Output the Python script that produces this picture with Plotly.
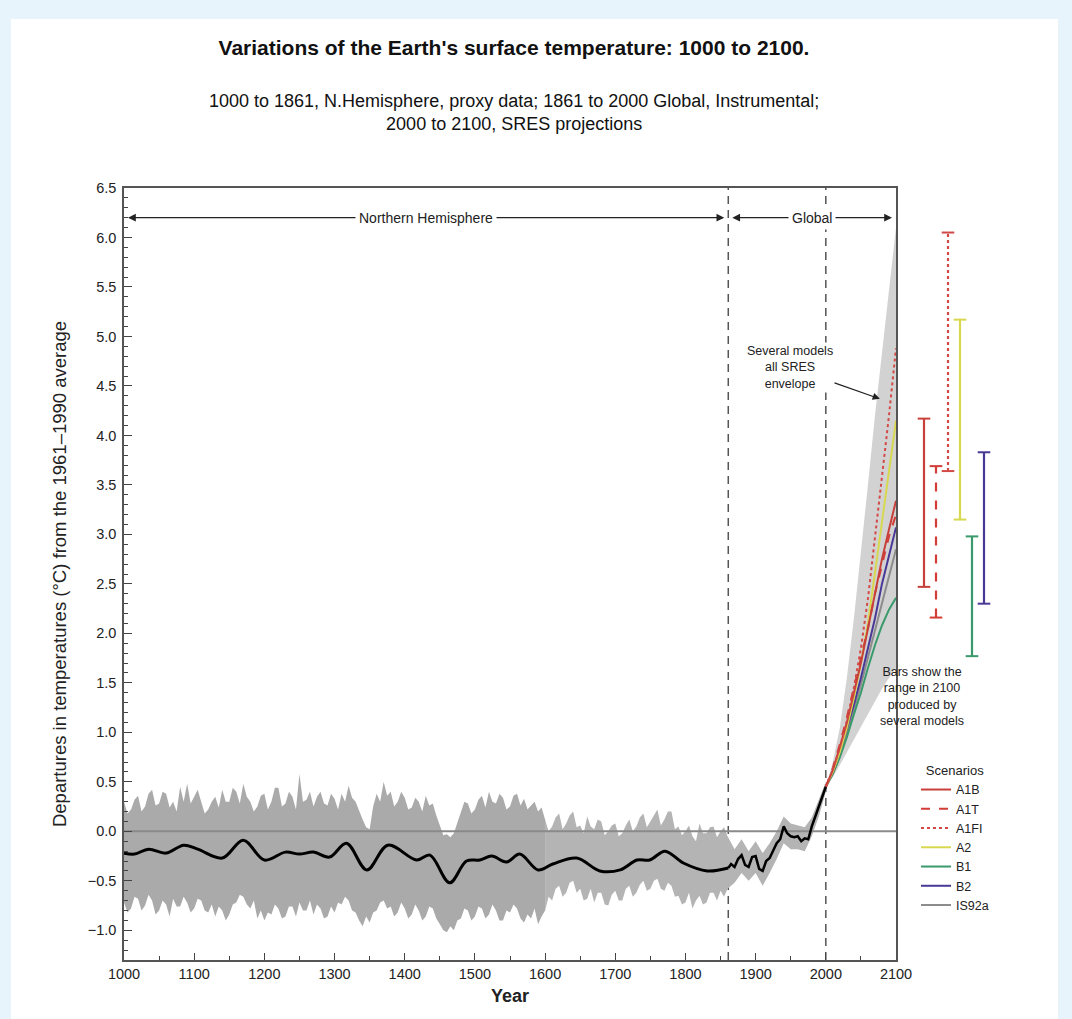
import plotly.graph_objects as go

# ---------------- data ----------------
periods = [1000, 1861, 2000, 2100]

band_years = list(range(1000, 1861, 5)) + list(range(1870, 2001, 10))
band_upper = [
    0.30, 0.18, 0.22, 0.32, 0.36, 0.20, 0.25, 0.38, 0.42, 0.26,
    0.28, 0.40, 0.38, 0.24, 0.30, 0.20, 0.45, 0.30, 0.48, 0.28,
    0.35, 0.42, 0.30, 0.18, 0.22, 0.30, 0.35, 0.24, 0.42, 0.30,
    0.30, 0.44, 0.40, 0.28, 0.48, 0.35, 0.30, 0.20, 0.25, 0.36,
    0.38, 0.22, 0.30, 0.44, 0.44, 0.25, 0.28, 0.40, 0.35, 0.22,
    0.58, 0.30, 0.32, 0.40, 0.25, 0.35, 0.40, 0.28, 0.26, 0.38,
    0.33, 0.22, 0.38, 0.30, 0.46, 0.34, 0.30, 0.20, 0.12, 0.04,
    0.02, 0.25, 0.38, 0.30, 0.50, 0.36, 0.40, 0.25, 0.30, 0.40,
    0.34, 0.22, 0.24, 0.34, 0.30, 0.20, 0.36, 0.26, 0.28, 0.16,
    0.05, -0.04, -0.03, -0.06, -0.02, 0.08, 0.20, 0.30, 0.28, 0.18,
    0.22, 0.32, 0.36, 0.24, 0.40, 0.30, 0.28, 0.38, 0.34, 0.22,
    0.25, 0.36, 0.38, 0.26, 0.33, 0.22, 0.26, 0.30, 0.20, 0.24,
    0.12, 0.00, 0.05, 0.14, 0.18, 0.02, 0.08, 0.16, 0.20, 0.04,
    0.06, -0.02, 0.15, 0.05, 0.02, 0.12, 0.10, -0.04, 0.00, 0.06,
    0.08, -0.05, -0.02, 0.06, 0.12, 0.00, 0.05, 0.14, 0.18, 0.04,
    0.10, 0.16, 0.22, 0.06, 0.12, 0.20, 0.20, 0.02, 0.05, -0.04,
    0.00, 0.06, -0.05, -0.10, 0.08, -0.02, -0.02, 0.04, 0.05, -0.06,
    0.00, 0.04, -0.05,
    -0.18, -0.08, -0.20, -0.10, -0.22, -0.12, 0.00, 0.15, 0.08, 0.06,
    0.04, 0.14, 0.32, 0.50,
]
band_lower = [
    -0.72, -0.82, -0.78, -0.66, -0.68, -0.80, -0.75, -0.64, -0.70, -0.84,
    -0.80, -0.70, -0.74, -0.86, -0.68, -0.76, -0.76, -0.66, -0.72, -0.82,
    -0.78, -0.68, -0.70, -0.80, -0.82, -0.74, -0.86, -0.76, -0.80, -0.90,
    -0.84, -0.74, -0.72, -0.64, -0.66, -0.74, -0.78, -0.70, -0.88, -0.80,
    -0.90, -0.82, -0.84, -0.74, -0.78, -0.88, -0.86, -0.76, -0.76, -0.86,
    -0.72, -0.80, -0.80, -0.70, -0.84, -0.74, -0.78, -0.88, -0.86, -0.76,
    -0.82, -0.72, -0.74, -0.66, -0.70, -0.80, -0.82, -0.90, -0.96, -0.86,
    -0.92, -0.82, -0.80, -0.72, -0.70, -0.78, -0.76, -0.86, -0.82, -0.72,
    -0.78, -0.88, -0.84, -0.74, -0.80, -0.90, -0.86, -0.76, -0.78, -0.88,
    -0.94, -1.00, -1.02, -0.96, -1.00, -0.90, -0.88, -0.78, -0.80, -0.90,
    -0.86, -0.76, -0.78, -0.88, -0.84, -0.74, -0.80, -0.90, -0.90, -0.80,
    -0.82, -0.74, -0.78, -0.88, -0.92, -0.84, -0.88, -0.78, -0.94, -0.86,
    -0.80, -0.66, -0.70, -0.58, -0.55, -0.66, -0.62, -0.52, -0.50, -0.62,
    -0.58, -0.70, -0.68, -0.58, -0.72, -0.62, -0.62, -0.74, -0.75, -0.64,
    -0.60, -0.70, -0.70, -0.58, -0.55, -0.66, -0.62, -0.54, -0.50, -0.60,
    -0.58, -0.50, -0.48, -0.58, -0.60, -0.52, -0.55, -0.66, -0.65, -0.74,
    -0.72, -0.62, -0.78, -0.70, -0.65, -0.74, -0.72, -0.62, -0.62, -0.70,
    -0.60, -0.66, -0.58,
    -0.52, -0.42, -0.50, -0.42, -0.55, -0.42, -0.28, -0.12, -0.18, -0.18,
    -0.20, -0.05, 0.15, 0.40,
]

proxy_years = [1000, 1015, 1035, 1060, 1085, 1105, 1140, 1170, 1200, 1230,
               1250, 1270, 1293, 1317, 1346, 1376, 1417, 1436, 1464, 1488,
               1507, 1524, 1545, 1564, 1590, 1611, 1645, 1678, 1707, 1731,
               1749, 1771, 1797, 1831, 1861]
proxy_vals = [-0.22, -0.23, -0.18, -0.22, -0.14, -0.18, -0.27, -0.09, -0.29, -0.21,
              -0.23, -0.21, -0.26, -0.12, -0.39, -0.14, -0.29, -0.24, -0.52, -0.30,
              -0.29, -0.25, -0.31, -0.23, -0.39, -0.33, -0.27, -0.40, -0.39, -0.29,
              -0.29, -0.20, -0.32, -0.40, -0.37]

instr_years = [1861, 1865, 1870, 1875, 1880, 1885, 1890, 1895, 1900, 1905,
               1910, 1915, 1920, 1925, 1930, 1935, 1940, 1945, 1950, 1955,
               1960, 1965, 1970, 1975, 1980, 1985, 1990, 1995, 2000]
instr_vals = [-0.37, -0.33, -0.36, -0.28, -0.24, -0.34, -0.36, -0.26, -0.25, -0.38,
              -0.40, -0.30, -0.27, -0.20, -0.12, -0.08, 0.05, -0.02, -0.05, -0.06,
              -0.05, -0.10, -0.07, -0.08, 0.05, 0.15, 0.25, 0.34, 0.45]

proj_years = [2000, 2010, 2020, 2030, 2040, 2050, 2060, 2070, 2080, 2090, 2100]
env_upper = [0.45, 0.70, 1.05, 1.55, 2.15, 2.80, 3.50, 4.20, 4.85, 5.50, 6.10]
env_lower = [0.45, 0.55, 0.67, 0.80, 0.93, 1.06, 1.19, 1.32, 1.44, 1.55, 1.65]

scen_A1B = [0.45, 0.62, 0.85, 1.10, 1.40, 1.70, 2.05, 2.40, 2.75, 3.05, 3.34]
scen_A1T = [0.45, 0.64, 0.88, 1.15, 1.45, 1.75, 2.05, 2.40, 2.70, 2.98, 3.20]
scen_A1FI = [0.45, 0.62, 0.85, 1.12, 1.45, 1.85, 2.35, 2.95, 3.55, 4.20, 4.88]
scen_A2 = [0.45, 0.60, 0.80, 1.05, 1.35, 1.70, 2.10, 2.60, 3.10, 3.65, 4.15]
scen_B1 = [0.45, 0.58, 0.75, 0.95, 1.18, 1.40, 1.65, 1.88, 2.08, 2.24, 2.36]
scen_B2 = [0.45, 0.60, 0.80, 1.03, 1.28, 1.55, 1.85, 2.15, 2.50, 2.80, 3.07]
scen_IS92a = [0.45, 0.58, 0.76, 0.98, 1.22, 1.48, 1.75, 2.03, 2.30, 2.58, 2.85]

bar_scenarios = ["A1B", "A1T", "A1FI", "A2", "B1", "B2"]
bar_low = [2.47, 2.16, 3.64, 3.15, 1.77, 2.30]
bar_high = [4.17, 3.69, 6.05, 5.17, 2.98, 3.83]

y_ticks = [-1.0, -0.5, 0.0, 0.5, 1.0, 1.5, 2.0, 2.5, 3.0, 3.5, 4.0, 4.5, 5.0, 5.5, 6.0, 6.5]
x_ticks = list(range(1000, 2101, 100))

# ---------------- styles ----------------
FONT = "Liberation Sans, Arial, sans-serif"
styles = {
    "A1B": dict(color="#c8403a", dash="solid"),
    "A1T": dict(color="#d43c38", dash="dash"),
    "A1FI": dict(color="#d24a46", dash="dot"),
    "A2": dict(color="#d8d850", dash="solid"),
    "B1": dict(color="#3a9a6c", dash="solid"),
    "B2": dict(color="#4a3896", dash="solid"),
    "IS92a": dict(color="#8c8c8c", dash="solid"),
}
scen_series = {"A1B": scen_A1B, "A1T": scen_A1T, "A1FI": scen_A1FI, "A2": scen_A2,
               "B1": scen_B1, "B2": scen_B2, "IS92a": scen_IS92a}
legend_order = ["A1B", "A1T", "A1FI", "A2", "B1", "B2", "IS92a"]
draw_order = ["IS92a", "B1", "B2", "A2", "A1T", "A1B", "A1FI"]

fig = go.Figure()

# proxy / instrumental spread band (two tones)
split = band_years.index(1600)
for sl, col in [(slice(0, split + 1), "#aaaaaa"), (slice(split, None), "#b4b4b4")]:
    fig.add_trace(go.Scatter(x=band_years[sl], y=band_lower[sl], mode="lines",
                             line=dict(width=0, color=col), showlegend=False, hoverinfo="skip"))
    fig.add_trace(go.Scatter(x=band_years[sl], y=band_upper[sl], mode="lines",
                             line=dict(width=0, color=col), fill="tonexty", fillcolor=col,
                             showlegend=False, hoverinfo="skip"))

# zero reference line
fig.add_trace(go.Scatter(x=[periods[0], periods[-1]], y=[0, 0], mode="lines",
                         line=dict(color="#8a8a8a", width=2), showlegend=False, hoverinfo="skip"))

# projection envelope
fig.add_trace(go.Scatter(x=proj_years, y=env_lower, mode="lines", line=dict(width=0, color="#d2d2d2"),
                         showlegend=False, hoverinfo="skip"))
fig.add_trace(go.Scatter(x=proj_years, y=env_upper, mode="lines", line=dict(width=0, color="#d2d2d2"),
                         fill="tonexty", fillcolor="#d2d2d2", showlegend=False, hoverinfo="skip"))

# scenario lines
for name in draw_order:
    st = styles[name]
    fig.add_trace(go.Scatter(x=proj_years, y=scen_series[name], mode="lines", name=name,
                             line=dict(color=st["color"], dash=st["dash"], width=2),
                             legendrank=legend_order.index(name) + 1))

# black temperature curves
fig.add_trace(go.Scatter(x=proxy_years, y=proxy_vals, mode="lines",
                         line=dict(color="black", width=3, shape="spline"), showlegend=False))
fig.add_trace(go.Scatter(x=instr_years, y=instr_vals, mode="lines",
                         line=dict(color="black", width=2.5), showlegend=False))

# range bars in 2100 (second x axis to the right of the plot)
for i, name in enumerate(bar_scenarios):
    st = styles[name]
    fig.add_trace(go.Scatter(x=[i, i], y=[bar_low[i], bar_high[i]], mode="lines+markers",
                             xaxis="x2", yaxis="y",
                             line=dict(color=st["color"], dash=st["dash"], width=2.2),
                             marker=dict(symbol="line-ew", size=9,
                                         line=dict(color=st["color"], width=2)),
                             showlegend=False, hoverinfo="skip"))

# ---------------- layout ----------------
L, T, B, R = 124, 188, 59, 72
W, H = 1072, 1019
PW, PH = W - L - R, H - T - B


def px(xp):
    return (xp - L) / PW


def py(yp):
    return (H - B - yp) / PH


shapes = [
    dict(type="rect", xref="paper", yref="paper", x0=px(11), x1=px(1058), y0=py(1040), y1=py(19),
         fillcolor="white", line=dict(width=0), layer="below"),
]
for xv in periods[1:3]:
    shapes.append(dict(type="line", xref="x", yref="y domain", x0=xv, x1=xv, y0=0, y1=1,
                       line=dict(color="#555555", width=1.5, dash="8px,6px"), layer="below"))

annotations = []
arrow_y = 6.2
for (x0, x1, label) in [(periods[0], periods[1], "Northern Hemisphere"), (periods[1], periods[3], "Global")]:
    mid = (x0 + x1) / 2
    for end in (x0, x1):
        annotations.append(dict(x=end, y=arrow_y, ax=mid, ay=arrow_y, xref="x", yref="y", axref="x", ayref="y",
                                text="", showarrow=True, arrowhead=2, arrowsize=1.3, arrowwidth=1.2,
                                arrowcolor="#222222", standoff=4))
    annotations.append(dict(x=mid, y=arrow_y, xref="x", yref="y", text=label, showarrow=False,
                            bgcolor="white", borderpad=3, font=dict(family=FONT, size=14, color="#222")))

annotations.append(dict(x=2077, y=4.37, ax=1949, ay=4.69, xref="x", yref="y", axref="x", ayref="y",
                        text="Several models<br>all SRES<br>envelope", showarrow=True, arrowhead=2,
                        arrowsize=1.2, arrowwidth=1.2, arrowcolor="#222", bgcolor="white",
                        font=dict(family=FONT, size=12.5, color="#222")))
annotations.append(dict(x=px(966), y=py(696), xref="paper", yref="paper", yanchor="middle",
                        text="Bars show the<br>range in 2100<br>produced by<br>several models",
                        showarrow=False, font=dict(family=FONT, size=12.5, color="#222")))
annotations.append(dict(x=px(514), y=py(112), xref="paper", yref="paper", yanchor="middle",
                        text="1000 to 1861, N.Hemisphere, proxy data; 1861 to 2000 Global, Instrumental;<br>2000 to 2100, SRES projections",
                        showarrow=False, font=dict(family=FONT, size=18, color="#111")))

fig.update_layout(
    width=W, height=H,
    margin=dict(l=L, r=R, t=T, b=B),
    paper_bgcolor="#e8f4fb",
    plot_bgcolor="white",
    font=dict(family=FONT, color="#222"),
    title=dict(text="<b>Variations of the Earth's surface temperature: 1000 to 2100.</b>",
               x=px(514), xref="paper", xanchor="center", y=1 - 48 / H, yref="container",
               yanchor="middle", font=dict(family=FONT, size=21, color="#111")),
    xaxis=dict(domain=[0, 772 / PW], range=[periods[0], periods[-1]], tickvals=x_ticks,
               ticks="inside", ticklen=7, tickwidth=1.2, tickcolor="#444",
               minor=dict(dtick=50, tick0=1000, ticks="inside", ticklen=4, tickcolor="#444"),
               showline=True, linecolor="#555", linewidth=1.5, mirror=True,
               showgrid=False, zeroline=False,
               tickfont=dict(family=FONT, size=14.5, color="#222"),
               title=dict(text="<b>Year</b>", font=dict(family=FONT, size=18, color="#222"), standoff=8)),
    xaxis2=dict(domain=[px(912), px(996)], range=[-1, len(bar_scenarios)], anchor="y",
                visible=False, showgrid=False, zeroline=False),
    yaxis=dict(range=[-1.3, 6.5], tickvals=y_ticks, tickformat=".1f", anchor="x",
               ticks="inside", ticklen=8, tickwidth=1.2, tickcolor="#444",
               minor=dict(dtick=0.1, tick0=0, ticks="inside", ticklen=4, tickcolor="#444"),
               showline=True, linecolor="#555", linewidth=1.5, mirror=True,
               showgrid=False, zeroline=False, ticklabelstandoff=3,
               tickfont=dict(family=FONT, size=14.5, color="#222"),
               title=dict(text="Departures in temperatures (°C) from the 1961–1990 average",
                          font=dict(family=FONT, size=18.5, color="#222"), standoff=16)),
    legend=dict(x=px(916), y=py(758), xanchor="left", yanchor="top", traceorder="normal",
                bgcolor="rgba(0,0,0,0)", font=dict(family=FONT, size=12.5, color="#222"),
                title=dict(text="Scenarios", side="top center", font=dict(family=FONT, size=13, color="#222")),
                tracegroupgap=0),
    shapes=shapes,
    annotations=annotations,
    showlegend=True,
)

fig.write_html("out.html", config={"displayModeBar": False},
               post_script="document.body.style.margin='0';document.body.style.background='#e8f4fb';")
